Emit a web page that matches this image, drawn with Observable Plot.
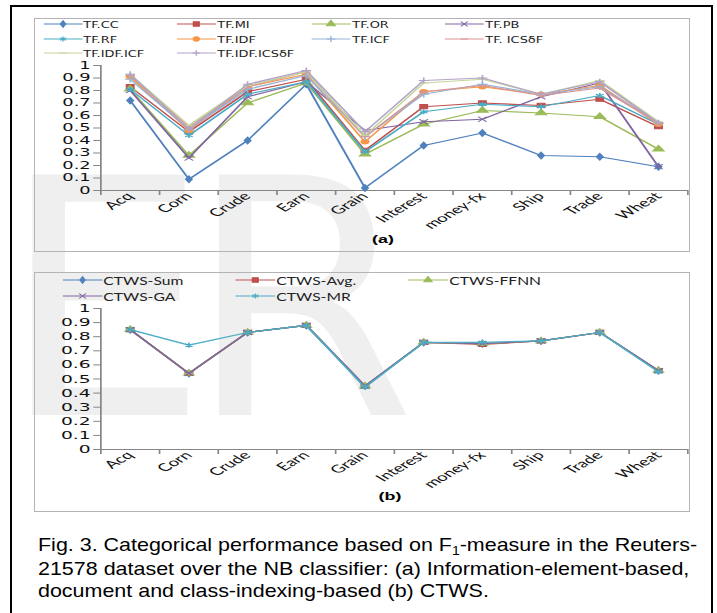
<!DOCTYPE html>
<html><head><meta charset="utf-8">
<script src="https://cdn.jsdelivr.net/npm/d3@7"></script>
<script src="https://cdn.jsdelivr.net/npm/@observablehq/plot@0.6"></script>
<style>
body{margin:0;background:#fff;}
#fig{position:relative;width:717px;height:613px;overflow:hidden;font-family:"Liberation Sans",Arial,sans-serif;background:#fff;}
.frame{position:absolute;left:10px;top:5px;width:703px;height:640px;border:2px solid #000;box-sizing:border-box;}
.pborder{position:absolute;border:1px solid #b4b4b4;box-sizing:border-box;}
.stretch{position:absolute;transform-origin:0 0;}
.wm{position:absolute;left:0px;top:136px;font-family:"DejaVu Sans";font-size:330px;line-height:330px;color:#efefef;letter-spacing:-22px;white-space:nowrap;}
.leg{position:absolute;white-space:nowrap;display:flex;align-items:center;color:#222;}
.leg svg{display:block;}
.caption{position:absolute;left:38px;top:534px;font-size:18.5px;line-height:22px;color:#000;white-space:nowrap;transform-origin:0 0;transform:scaleX(1.16);}
.sub{position:absolute;font-weight:bold;font-family:"Liberation Sans",Arial,sans-serif;font-size:10.5px;}
</style></head>
<body><div id="fig">
<div class="wm">ER</div>
<div class="frame"></div>
<div class="pborder" style="left:34px;top:18px;width:656px;height:234px;"></div>
<div class="pborder" style="left:34px;top:272px;width:656px;height:240px;"></div>
<div id="pa" class="stretch" style="left:34px;top:18px;height:234px;"></div>
<div id="pb" class="stretch" style="left:34px;top:272px;height:240px;"></div>
<div id="la" class="stretch" style="left:34px;top:18px;height:50px;"></div>
<div id="lb" class="stretch" style="left:34px;top:272px;height:40px;"></div>
<div class="caption">Fig. 3. Categorical performance based on F<span style="font-size:12px;position:relative;top:4px;">1</span>-measure in the Reuters-<br>21578 dataset over the NB classifier: (a) Information-element-based,<br>document and class-indexing-based (b) CTWS.</div>
</div>
<script>
// ---------- data ----------
const categories = ["Acq","Corn","Crude","Earn","Grain","Interest","money-fx","Ship","Trade","Wheat"];
const yTicks = [0,0.1,0.2,0.3,0.4,0.5,0.6,0.7,0.8,0.9,1];

const namesA = ["TF.CC","TF.MI","TF.OR","TF.PB","TF.RF","TF.IDF","TF.ICF","TF. ICS\u03B4F","TF.IDF.ICF","TF.IDF.ICS\u03B4F"];
const tfCC       = [0.72,0.09,0.40,0.85,0.02,0.36,0.46,0.28,0.27,0.19];
const tfMI       = [0.83,0.47,0.79,0.89,0.32,0.67,0.70,0.68,0.73,0.51];
const tfOR       = [0.81,0.28,0.70,0.86,0.29,0.53,0.64,0.62,0.59,0.33];
const tfPB       = [0.80,0.26,0.75,0.87,0.48,0.55,0.57,0.75,0.86,0.19];
const tfRF       = [0.81,0.44,0.77,0.87,0.31,0.63,0.69,0.67,0.76,0.53];
const tfIDF      = [0.91,0.48,0.83,0.93,0.39,0.79,0.83,0.77,0.84,0.53];
const tfICF      = [0.89,0.49,0.81,0.92,0.43,0.77,0.85,0.77,0.83,0.54];
const tfICSdF    = [0.92,0.51,0.83,0.95,0.43,0.79,0.84,0.76,0.82,0.54];
const tfIDFICF   = [0.93,0.52,0.84,0.95,0.44,0.86,0.89,0.77,0.88,0.55];
const tfIDFICSdF = [0.93,0.49,0.85,0.96,0.47,0.88,0.90,0.77,0.87,0.54];
const valuesA = [tfCC,tfMI,tfOR,tfPB,tfRF,tfIDF,tfICF,tfICSdF,tfIDFICF,tfIDFICSdF];

const namesB = ["CTWS-Sum","CTWS-Avg.","CTWS-FFNN","CTWS-GA","CTWS-MR"];
const ctwsSum  = [0.85,0.54,0.83,0.88,0.45,0.76,0.75,0.77,0.83,0.56];
const ctwsAvg  = [0.85,0.54,0.83,0.88,0.45,0.76,0.745,0.77,0.83,0.56];
const ctwsFFNN = [0.85,0.54,0.83,0.88,0.45,0.76,0.75,0.77,0.83,0.56];
const ctwsGA   = [0.85,0.54,0.83,0.88,0.45,0.76,0.75,0.77,0.83,0.56];
const ctwsMR   = [0.85,0.74,0.83,0.88,0.44,0.76,0.76,0.77,0.83,0.55];
const valuesB = [ctwsSum,ctwsAvg,ctwsFFNN,ctwsGA,ctwsMR];

// ---------- styles ----------
const S = 1.7;   // horizontal stretch of the chart drawings
const SL = 1.36; // horizontal stretch of the legends
const dash = {draw(ctx, size){const w=Math.sqrt(size)*0.7; ctx.moveTo(-w,0); ctx.lineTo(w,0);}};
const colorsA = ["#4F81BD","#C0504D","#9BBB59","#8064A2","#4BACC6","#F79646","#95B3D7","#D99694","#C3D69B","#B3A2C7"];
const symbolsA = [d3.symbolDiamond,d3.symbolSquare,d3.symbolTriangle,d3.symbolTimes,d3.symbolAsterisk,d3.symbolCircle,d3.symbolPlus,dash,dash,d3.symbolPlus];
const filledA = [true,true,true,false,false,true,false,false,false,false];
const rA = [2.0,2.4,2.4,2.4,2.4,2.2,2.2,2.2,2.2,2.0];
const colorsB = ["#4F81BD","#C0504D","#9BBB59","#8064A2","#4BACC6"];
const symbolsB = [d3.symbolDiamond,d3.symbolSquare,d3.symbolTriangle,d3.symbolTimes,d3.symbolAsterisk];
const filledB = [true,true,true,false,false];
const rB = [2.0,2.4,2.2,2.4,2.4];

const fmt = d => d===0 ? "0" : d===1 ? "1" : d.toFixed(1);

function chart(values, colors, symbols, filled, rs, o){
  const marks = [
    Plot.ruleY([0],{stroke:"#868686"}),
    Plot.ruleX([0],{stroke:"#868686"}),
    Plot.axisY({ticks:yTicks, tickSize:4, tickPadding:2, tickFormat:fmt, stroke:"#868686", fill:"#111", fontFamily:"DejaVu Sans", fontSize:o.fs, letterSpacing:"1px"}),
    Plot.axisX({ticks:d3.range(categories.length+1), tickSize:5, tickFormat:()=>"", stroke:"#868686"}),
    Plot.axisX({ticks:categories.map((c,i)=>i+0.5), tickFormat:d=>categories[Math.floor(d)], tickSize:0, tickPadding:4, tickRotate:-45, fill:"#111", fontFamily:"Lato", fontSize:11})
  ];
  values.forEach((vals,k)=>{
    const d = vals.map((v,i)=>({x:i+0.5, y:v}));
    marks.push(Plot.line(d,{x:"x",y:"y",stroke:colors[k],strokeWidth:1.2}));
    marks.push(Plot.dot(d,{x:"x",y:"y",symbol:symbols[k],r:rs[k],fill:filled[k]?colors[k]:"none",stroke:colors[k],strokeWidth:1}));
  });
  return Plot.plot({
    width:o.width, height:o.height,
    marginTop:o.mt, marginBottom:o.mb, marginLeft:o.ml, marginRight:o.mr,
    x:{type:"linear", domain:[0,categories.length], label:null},
    y:{domain:[0,1], label:null},
    style:{background:"transparent", color:"#000", overflow:"visible"},
    marks
  });
}

// legend positions given in final pixels relative to the panel, converted to the legend's stretched frame
function legend(container, names, colors, symbols, filled, rs, cols, rows, lineLen, font){
  names.forEach((n,k)=>{
    const c = k % cols.length, r = Math.floor(k/cols.length);
    const div = document.createElement("div");
    div.className = "leg";
    div.style.left = (cols[c]/SL)+"px";
    div.style.top = (rows[r]-7)+"px";
    div.style.height = "14px";
    div.style.font = font;
    const lw = lineLen/SL;
    const sz = Math.PI*rs[k]*rs[k];
    const path = d3.symbol().type(symbols[k]).size(sz)();
    div.innerHTML = `<svg width="${lw+1}" height="14"><line x1="0" x2="${lw}" y1="7" y2="7" stroke="${colors[k]}" stroke-width="1.2"/>`+
      `<path d="${path}" transform="translate(${lw/2},7)" fill="${filled[k]?colors[k]:"none"}" stroke="${colors[k]}" stroke-width="1"/></svg><span>${n}</span>`;
    container.appendChild(div);
  });
}

function subLabel(container, txt, cx, y){
  const d = document.createElement("div");
  d.className = "sub";
  d.textContent = txt;
  d.style.left = (cx-9)+"px";
  d.style.top = y+"px";
  d.style.width = "18px";
  d.style.textAlign = "center";
  container.appendChild(d);
}

const pa = document.getElementById("pa"), pb = document.getElementById("pb");
const la = document.getElementById("la"), lb = document.getElementById("lb");
pa.style.transform = `scaleX(${S})`; pb.style.transform = `scaleX(${S})`;
la.style.transform = `scaleX(${SL})`; lb.style.transform = `scaleX(${SL})`;
const W = 656/S;
pa.style.width = W+"px"; pb.style.width = W+"px";
la.style.width = (656/SL)+"px"; lb.style.width = (656/SL)+"px";
const ml = 66/S, mr = W - 653/S;

const svgA = chart(valuesA, colorsA, symbolsA, filledA, rA, {width:W, height:234, mt:47, mb:62, ml, mr, fs:10.5});
svgA.style.position="absolute"; svgA.style.left="0"; svgA.style.top="0";
pa.appendChild(svgA);
legend(la, namesA, colorsA, symbolsA, filledA, rA, [9,143,278,411], [6,21,35], 39, "9.5px 'DejaVu Sans'");
subLabel(pa, "(a)", 349/S, 215);

const svgB = chart(valuesB, colorsB, symbolsB, filledB, rB, {width:W, height:240, mt:36, mb:63, ml, mr, fs:11});
svgB.style.position="absolute"; svgB.style.left="0"; svgB.style.top="0";
pb.appendChild(svgB);
legend(lb, namesB, colorsB, symbolsB, filledB, rB, [28,201,374], [8,24], 40, "11.5px Lato");
subLabel(pb, "(b)", 356/S, 218);
</script>
</body></html>
